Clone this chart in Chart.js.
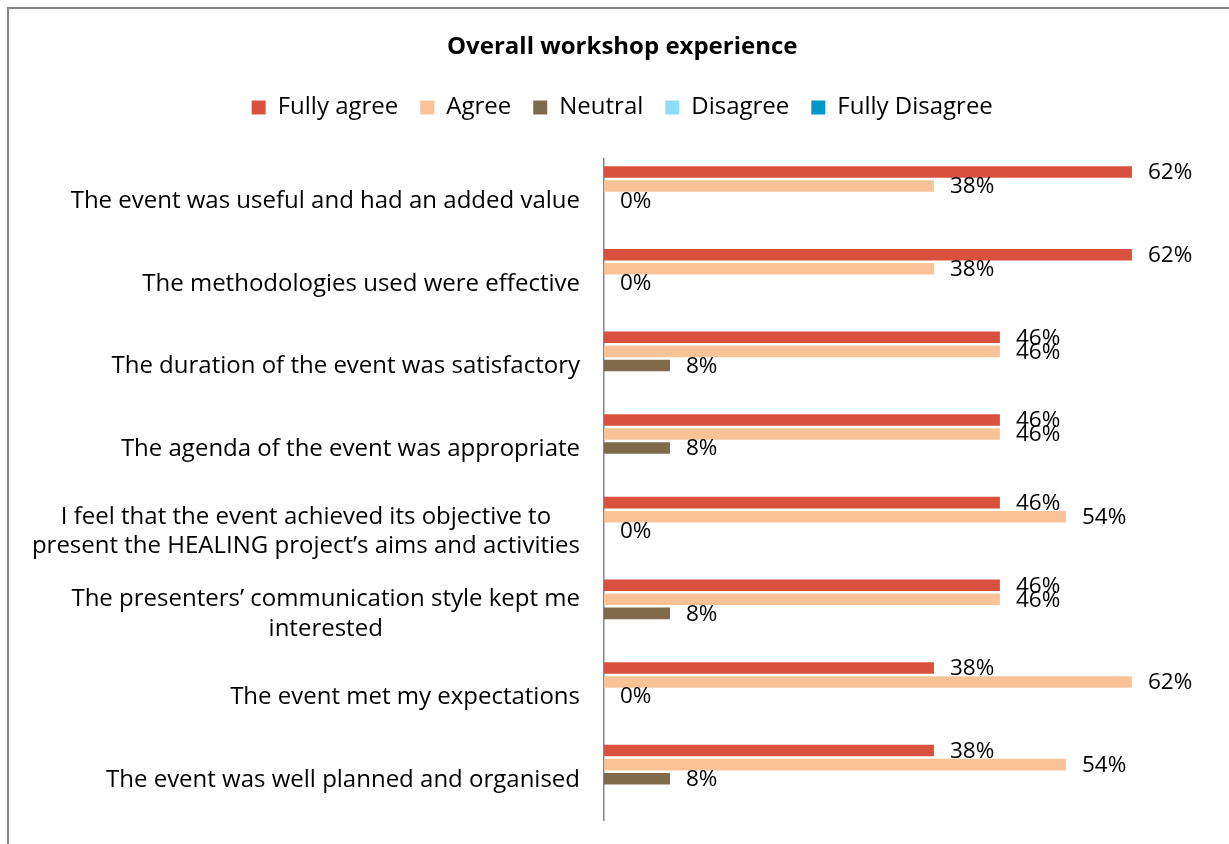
<!DOCTYPE html>
<html>
<head>
<meta charset="utf-8">
<title>Overall workshop experience</title>
<script src="https://cdn.jsdelivr.net/npm/chart.js@4.4.1/dist/chart.umd.min.js"></script>
<style>
  html, body { margin: 0; padding: 0; background: #fff; }
  #wrap { position: relative; width: 1229px; height: 844px; }
</style>
</head>
<body>
<div id="wrap"><canvas id="surveyChart" width="1229" height="844"></canvas></div>
<script>
// statements, top to bottom (multi-line ones split as in the original)
const statements = [
  ["The event was useful and had an added value"],
  ["The methodologies used were effective"],
  ["The duration of the event was satisfactory"],
  ["The agenda of the event was appropriate"],
  ["I feel that the event achieved its objective to", "present the HEALING project\u2019s aims and activities"],
  ["The presenters\u2019 communication style kept me", "interested"],
  ["The event met my expectations"],
  ["The event was well planned and organised"]
];

const seriesNames = ["Fully agree", "Agree", "Neutral", "Disagree", "Fully Disagree"];
const seriesColors = ["#D9503E", "#F9C397", "#7F6B4C", "#8EDDF8", "#0097CB"];

// percentages (labels are shown rounded); null = no label
const fullyAgree    = [61.54, 61.54, 46.15, 46.15, 46.15, 46.15, 38.46, 38.46];
const agree         = [38.46, 38.46, 46.15, 46.15, 53.85, 46.15, 61.54, 53.85];
const neutral       = [0, 0, 7.69, 7.69, 0, 7.69, 0, 7.69];
const disagree      = [null, null, null, null, null, null, null, null];
const fullyDisagree = [null, null, null, null, null, null, null, null];

const axisMax = 70;

const FONT = "'Open Sans', 'Liberation Sans', sans-serif";

const frameBorder = {
  id: "frameBorder",
  beforeDraw(chart) {
    const { ctx, width, height } = chart;
    ctx.save();
    ctx.strokeStyle = "#858585";
    ctx.lineWidth = 2;
    ctx.beginPath();
    ctx.moveTo(8, height);
    ctx.lineTo(8, 8);
    ctx.lineTo(width, 8);
    ctx.stroke();
    ctx.restore();
  }
};

const statementLabels = {
  id: "statementLabels",
  afterDraw(chart) {
    const { ctx } = chart;
    const y = chart.scales.y;
    const right = chart.chartArea.left - 24;
    const lineHeight = 29.5;
    ctx.save();
    ctx.font = "24px " + FONT;
    ctx.fillStyle = "#000";
    ctx.textAlign = "center";
    ctx.textBaseline = "middle";
    chart.data.labels.forEach((lines, i) => {
      const yc = y.getPixelForTick(i) + 1;
      const w = Math.max(...lines.map((l) => ctx.measureText(l).width));
      lines.forEach((line, k) => {
        ctx.fillText(line, right - w / 2, yc + (k - (lines.length - 1) / 2) * lineHeight);
      });
    });
    ctx.restore();
  }
};

const valueLabels = {
  id: "valueLabels",
  afterDatasetsDraw(chart) {
    const { ctx } = chart;
    ctx.save();
    ctx.font = "22.5px " + FONT;
    ctx.fillStyle = "#000";
    ctx.textAlign = "left";
    ctx.textBaseline = "middle";
    chart.data.datasets.forEach((ds, di) => {
      const meta = chart.getDatasetMeta(di);
      meta.data.forEach((bar, i) => {
        const v = ds.data[i];
        if (v === null || v === undefined) return;
        ctx.fillText(Math.round(v) + "%", bar.x + 16, bar.y + 1);
      });
    });
    ctx.restore();
  }
};

const seriesData = [fullyAgree, agree, neutral, disagree, fullyDisagree];

const ctx = document.getElementById("surveyChart").getContext("2d");
const surveyChart = new Chart(ctx, {
  type: "bar",
  data: {
    labels: statements,
    datasets: seriesNames.map((name, i) => ({
      label: name,
      data: seriesData[i],
      backgroundColor: seriesColors[i],
      borderWidth: 0,
      categoryPercentage: 0.85,
      barPercentage: 0.82
    }))
  },
  options: {
    indexAxis: "y",
    responsive: false,
    animation: false,
    layout: { padding: { top: 0, right: 24.5, bottom: 24, left: 40 } },
    scales: {
      x: {
        position: "top",
        min: 0,
        max: axisMax,
        grid: { display: false },
        border: { display: false },
        ticks: { display: false },
        afterFit: (scale) => { scale.height = 29.4; }
      },
      y: {
        grid: { display: false, drawTicks: false },
        border: { color: "#868686", width: 1.5 },
        ticks: { display: false },
        afterFit: (scale) => { scale.width = 564; }
      }
    },
    plugins: {
      title: {
        display: true,
        text: "Overall workshop experience",
        color: "#000",
        font: { family: FONT, size: 24, weight: "bold" },
        padding: { top: 33, bottom: 11.6 }
      },
      legend: {
        labels: {
          color: "#000",
          font: { family: FONT, size: 24 },
          boxWidth: 14,
          boxHeight: 14,
          padding: 22
        }
      },
      tooltip: { enabled: false }
    }
  },
  plugins: [frameBorder, statementLabels, valueLabels]
});
</script>
</body>
</html>
